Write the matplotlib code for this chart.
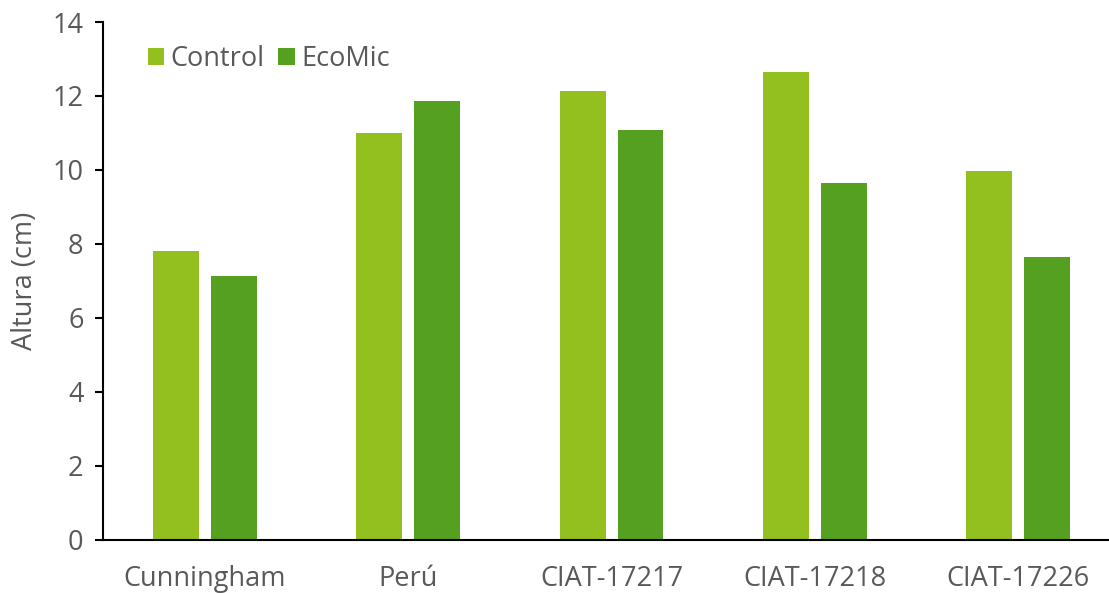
import matplotlib.pyplot as plt
import numpy as np

plt.rcParams['font.family'] = ['Open Sans', 'DejaVu Sans']

genotipos = ['Cunningham', 'Perú', 'CIAT-17217', 'CIAT-17218', 'CIAT-17226']
control = [7.81, 11.0, 12.14, 12.65, 9.97]
ecomic = [7.14, 11.86, 11.08, 9.65, 7.65]

gris = '#595959'
x = np.arange(len(genotipos))
ancho = 0.226
desp = 0.1425

fig = plt.figure(figsize=(11.09, 5.93), dpi=100)
ax = fig.add_axes([0.0929, 0.0894, 0.917, 0.8735])

ax.bar(x - desp, control, ancho, color='#93C01F', label='Control')
ax.bar(x + desp, ecomic, ancho, color='#55A021', label='EcoMic')

ax.set_xlim(-0.5, len(genotipos) - 0.5)
ax.set_ylim(0, 14)
ax.set_yticks(range(0, 15, 2))
ax.set_xticks(x)
ax.set_xticklabels(genotipos)
ax.set_ylabel('Altura (cm)', color=gris, fontsize=19.5, labelpad=10)

ax.tick_params(axis='y', colors='black', labelcolor=gris, labelsize=19.5,
               length=6, width=1.5, pad=8)
ax.tick_params(axis='x', labelcolor=gris, labelsize=19.5, length=0, pad=18)

for lado in ['top', 'right']:
    ax.spines[lado].set_visible(False)
for lado in ['left', 'bottom']:
    ax.spines[lado].set_linewidth(1.5)

ax.legend(loc='upper left', bbox_to_anchor=(0.02, 1.003), ncol=2, frameon=False,
          fontsize=19.5, labelcolor=gris, handlelength=0.6, handleheight=0.6,
          handletextpad=0.25, columnspacing=0.5)

fig.savefig('out.png', dpi=100)
